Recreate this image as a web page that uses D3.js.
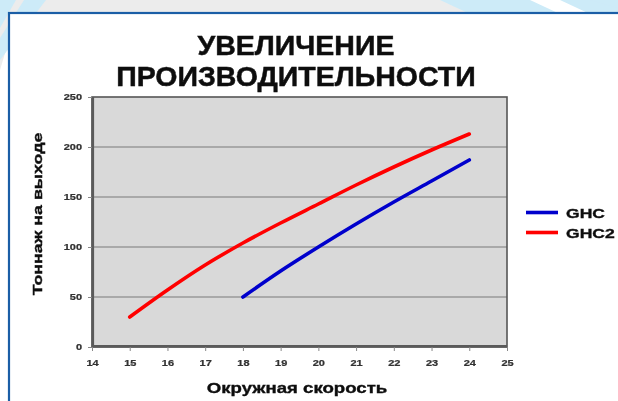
<!DOCTYPE html>
<html>
<head>
<meta charset="utf-8">
<script src="https://cdn.jsdelivr.net/npm/d3@7"></script>
<style>
  html, body { margin: 0; padding: 0; background: #fff; }
  svg { display: block; }
</style>
</head>
<body>
<svg id="chart" width="618" height="401"></svg>
<script>
// Peripheral speed (x) vs. output tonnage (y)
const speedGHC  = [18, 19, 20, 21, 22, 23, 24];
const tonsGHC   = [50, 76, 100, 123, 145, 166, 187];
const speedGHC2 = [15, 16, 17, 18, 19, 20, 21, 22, 23, 24];
const tonsGHC2  = [30, 57, 82, 104, 124, 143, 162, 180, 197, 213];
const seriesNames  = ["GHC", "GHC2"];
const seriesColors = ["#0000cc", "#ff0000"];
const xTicks = [14, 15, 16, 17, 18, 19, 20, 21, 22, 23, 24, 25];
const yTicks = [0, 50, 100, 150, 200, 250];
const titleLines = ["УВЕЛИЧЕНИЕ", "ПРОИЗВОДИТЕЛЬНОСТИ"];
const xTitle = "Окружная скорость";
const yTitle = "Тоннаж на выходе";

const svg = d3.select("#chart");
const W = 618, H = 401;
const font = "Liberation Sans, Arial, sans-serif";

// soft edge filter for text
const defs = svg.append("defs");
defs.append("filter").attr("id", "soft")
  .attr("x", "-10%").attr("y", "-10%").attr("width", "120%").attr("height", "120%")
  .append("feGaussianBlur").attr("stdDeviation", 0.35);

// decorative backdrop behind the framed panel
const deco = svg.append("g");
deco.append("rect").attr("x", 0).attr("y", 0).attr("width", W).attr("height", 14).attr("fill", "#ececec");
deco.append("rect").attr("x", 0).attr("y", 0).attr("width", 9).attr("height", H).attr("fill", "#ffffff");
deco.append("polygon").attr("points", "0,0 9,0 9,40 0,70").attr("fill", "#ececec");
const stripes = [
  [0, 0, 16, 0, 0, 28],
  [24, 0, 46, 0, 0, 60, 0, 38],
  [440, 0, 618, 0, 618, 14, 470, 14],
  [590, 0, 618, 0, 618, 8]
];
deco.selectAll("polygon.s").data(stripes).join("polygon")
  .attr("points", d => d3.range(0, d.length, 2).map(i => d[i] + "," + d[i + 1]).join(" "))
  .attr("fill", "#cdebf8");
deco.append("polygon").attr("points", "530,0 560,0 590,14 560,14").attr("fill", "#ffffff");

// panel with blue frame
svg.append("rect").attr("x", 9).attr("y", 13).attr("width", W).attr("height", H)
  .attr("fill", "#ffffff").attr("stroke", "#1b5ea6").attr("stroke-width", 2.2);

// title
svg.append("g").attr("filter", "url(#soft)").selectAll("text").data(titleLines).join("text")
  .attr("x", 296).attr("y", (d, i) => 55 + i * 31)
  .attr("text-anchor", "middle")
  .attr("font-family", font)
  .attr("font-weight", "bold").attr("font-size", 28.5)
  .attr("stroke", "#111").attr("stroke-width", 0.5)
  .attr("fill", "#111")
  .text(d => d);

const plot = { left: 92, right: 507, top: 97, bottom: 347 };
const x = d3.scaleLinear().domain([14, 25]).range([plot.left, plot.right]);
const y = d3.scaleLinear().domain([0, 250]).range([plot.bottom, plot.top]);

// plot background
svg.append("rect")
  .attr("x", plot.left).attr("y", plot.top)
  .attr("width", plot.right - plot.left).attr("height", plot.bottom - plot.top)
  .attr("fill", "#d9d9d9");

// horizontal gridlines
svg.append("g").selectAll("line").data(yTicks.filter(v => v > 0 && v < 250)).join("line")
  .attr("x1", plot.left).attr("x2", plot.right)
  .attr("y1", d => y(d)).attr("y2", d => y(d))
  .attr("stroke", "#a9a9a9").attr("stroke-width", 1.8);

// plot border (heavier on left/bottom)
svg.append("rect")
  .attr("x", plot.left).attr("y", plot.top)
  .attr("width", plot.right - plot.left).attr("height", plot.bottom - plot.top)
  .attr("fill", "none").attr("stroke", "#555").attr("stroke-width", 1.6);
svg.append("path")
  .attr("d", `M${plot.left + 0.8},${plot.top} V${plot.bottom - 0.8} H${plot.right}`)
  .attr("fill", "none").attr("stroke", "#5a5a5a").attr("stroke-width", 2.6);

// axes: tick labels are drawn in a horizontally widened bold face
const widen = (sel, sx) => sel.each(function () {
  const t = d3.select(this);
  const tx = +t.attr("x") || 0, ty = +t.attr("y") || 0;
  t.attr("transform", `translate(${tx},${ty}) scale(${sx},1)`).attr("x", 0).attr("y", 0);
});

const yAxis = svg.append("g")
  .attr("transform", `translate(${plot.left},0)`)
  .call(d3.axisLeft(y).tickValues(yTicks).tickSize(4).tickPadding(6).tickFormat(d3.format("d")));
yAxis.select(".domain").remove();
yAxis.selectAll("line").attr("stroke", "#888");

const xAxis = svg.append("g")
  .attr("transform", `translate(0,${plot.bottom})`)
  .call(d3.axisBottom(x).tickValues(xTicks).tickSize(4).tickPadding(9).tickFormat(d3.format("d")));
xAxis.select(".domain").remove();
xAxis.selectAll("line").attr("stroke", "#888");

[yAxis, xAxis].forEach(g => {
  const labels = g.selectAll("text")
    .attr("font-family", font).attr("font-weight", "bold").attr("font-size", 9)
    .attr("fill", "#333").attr("stroke", "#333").attr("stroke-width", 0.25)
    .attr("filter", "url(#soft)");
  widen(labels, 1.22);
});

// axis titles
svg.append("text")
  .attr("transform", "translate(297,393) scale(1.33,1)")
  .attr("text-anchor", "middle")
  .attr("font-family", font)
  .attr("font-weight", "bold").attr("font-size", 14).attr("fill", "#111")
  .attr("stroke", "#111").attr("stroke-width", 0.35)
  .attr("filter", "url(#soft)")
  .text(xTitle);
svg.append("text")
  .attr("transform", "translate(42,214) rotate(-90) scale(1.32,1)")
  .attr("text-anchor", "middle")
  .attr("font-family", font)
  .attr("font-weight", "bold").attr("font-size", 13.5).attr("fill", "#111")
  .attr("stroke", "#111").attr("stroke-width", 0.35)
  .attr("filter", "url(#soft)")
  .text(yTitle);

// series lines
const series = [
  { name: seriesNames[0], color: seriesColors[0], pts: speedGHC.map((s, i) => [s, tonsGHC[i]]) },
  { name: seriesNames[1], color: seriesColors[1], pts: speedGHC2.map((s, i) => [s, tonsGHC2[i]]) }
];
const line = d3.line().x(d => x(d[0])).y(d => y(d[1])).curve(d3.curveMonotoneX);
svg.append("g").selectAll("path").data(series).join("path")
  .attr("d", d => line(d.pts))
  .attr("fill", "none").attr("stroke", d => d.color)
  .attr("stroke-width", 3.6).attr("stroke-linecap", "round");

// legend
const legend = svg.append("g").selectAll("g").data(series).join("g")
  .attr("transform", (d, i) => `translate(526,${212.5 + i * 20})`);
legend.append("line").attr("x1", 0).attr("x2", 32).attr("y1", 0).attr("y2", 0)
  .attr("stroke", d => d.color).attr("stroke-width", 3.6);
legend.append("text")
  .attr("transform", "translate(40,5) scale(1.35,1)")
  .attr("font-family", font)
  .attr("font-weight", "bold").attr("font-size", 13).attr("fill", "#111")
  .attr("stroke", "#111").attr("stroke-width", 0.35)
  .attr("filter", "url(#soft)")
  .text(d => d.name);
</script>
</body>
</html>
